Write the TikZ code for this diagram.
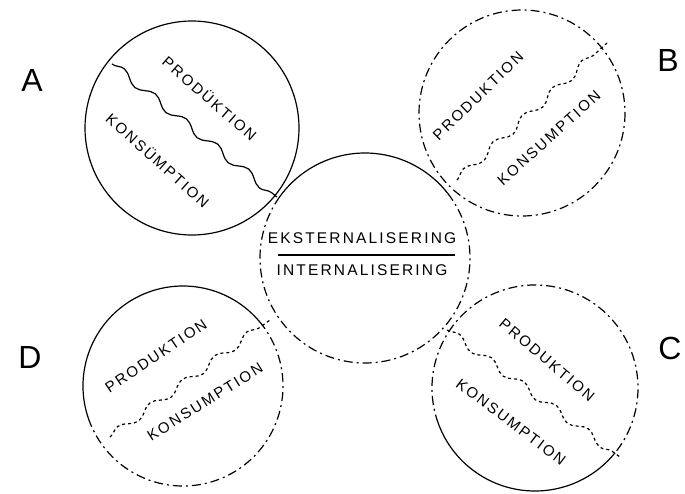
\documentclass[tikz,border=0pt]{standalone}
\usepackage{fontspec}
\setmainfont{Liberation Sans}
\newfontfamily\hand[LetterSpace=14]{Liberation Sans}
\usetikzlibrary{decorations.pathmorphing}
\begin{document}
\begin{tikzpicture}[x=1pt,y=-1pt,line width=1.2pt,
  wavy/.style={decorate,decoration={snake,amplitude=4pt,segment length=40pt}},
  dsh/.style={dash pattern=on 9pt off 4pt on 2pt off 4pt},
  ctext/.style={font=\hand\fontsize{15}{17}\selectfont,inner sep=0pt},
  mtext/.style={font=\hand\fontsize{15.5}{17}\selectfont,inner sep=0pt},
  big/.style={font=\fontsize{32}{34}\selectfont,inner sep=0pt}]
\useasboundingbox (0,0) rectangle (685,493);
% centres
\coordinate (cA) at (192,128);
\coordinate (cB) at (522,113);
\coordinate (cM) at (365,258);
\coordinate (cD) at (183,386);
\coordinate (cC) at (535,388);
% circle A (solid)
\draw (cA) circle[radius=107];
% circle B (dashed)
\draw[dsh] (cB) circle[radius=103];
% centre circle
\draw ([shift={(215:105)}]cM) arc[start angle=215,end angle=322,radius=105];
\draw[dsh] ([shift={(322:105)}]cM) arc[start angle=322,end angle=575,radius=105];
% circle D
\draw ([shift={(160:100)}]cD) arc[start angle=160,end angle=320,radius=100];
\draw[dsh] ([shift={(320:100)}]cD) arc[start angle=320,end angle=520,radius=100];
% circle C
\draw ([shift={(39:103)}]cC) arc[start angle=39,end angle=160,radius=103];
\draw[dsh] ([shift={(160:103)}]cC) arc[start angle=160,end angle=399,radius=103];
% wavy dividers
\coordinate (a1) at (112,64); \coordinate (a2) at (277,197);
\coordinate (b1) at (457,180); \coordinate (b2) at (607,43);
\coordinate (d1) at (110,437); \coordinate (d2) at (270,320);
\coordinate (c1) at (447,330); \coordinate (c2) at (620,457);
\draw[wavy] (a1) -- (a2);
\draw[wavy,dashed] (b1) -- (b2);
\draw[wavy,dashed] (d1) -- (d2);
\draw[wavy,dashed] (c1) -- (c2);
% texts in circles
\node[ctext,rotate=-41] (tAp) at (210,98) {PRODÜKTION};
\node[ctext,rotate=-42] (tAk) at (158,160) {KONSÜMPTION};
\node[ctext,rotate=44] (tBp) at (478,96) {PRODUKTION};
\node[ctext,rotate=42] (tBk) at (549,138) {KONSUMPTION};
\node[ctext,rotate=-40] (tCp) at (547,360) {PRODUKTION};
\node[ctext,rotate=-37] (tCk) at (511,422) {KONSUMPTION};
\node[ctext,rotate=34] (tDp) at (156,356) {PRODUKTION};
\node[ctext,rotate=32] (tDk) at (205,402) {KONSUMPTION};
% centre text
\node[mtext] (ext) at (362,238) {EKSTERNALISERING};
\coordinate (l1) at (278,255); \coordinate (l2) at (455,255);
\draw (l1) -- (l2);
\node[mtext] (int) at (362,270) {INTERNALISERING};
% corner letters
\node[big] (LA) at (32,80) {A};
\node[big] (LB) at (668,60) {B};
\node[big] (LC) at (670,348) {C};
\node[big] (LD) at (30,357) {D};
\end{tikzpicture}
\end{document}
